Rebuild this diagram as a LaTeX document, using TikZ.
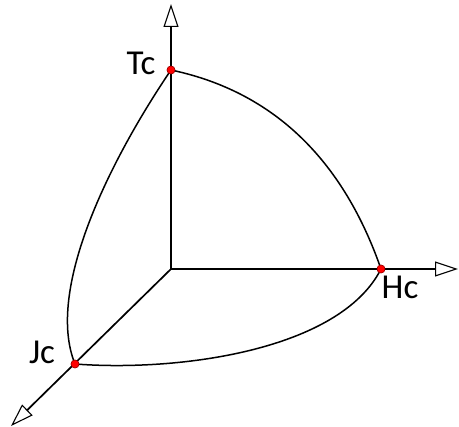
\documentclass[tikz,border=0pt]{standalone}
\usepackage{fontspec}
\setmainfont{Carlito}
\usetikzlibrary{arrows.meta}
\begin{document}
\begin{tikzpicture}[x=1pt,y=-1pt,
  axis/.style={line width=1.7pt,-{Triangle[open,length=23pt,width=15pt,line width=1.1pt]}},
  crv/.style={line width=1.5pt},
  pt/.style={circle,fill=red,draw=red!60!black,line width=0.5pt,inner sep=0pt,minimum size=8pt},
  lbl/.style={font=\fontsize{35}{40}\selectfont,inner sep=0pt}]
\useasboundingbox (0,0) rectangle (459,427);
\coordinate (O) at (171,269);
\coordinate (ztip) at (171,4);
\coordinate (xtip) at (458,269);
\coordinate (ytip) at (11,426);
\node[pt] (T) at (171,70) {};
\node[pt] (H) at (381,269) {};
\node[pt] (J) at (75,364) {};
\draw[axis] (O) -- (ztip);
\draw[axis] (O) -- (xtip);
\draw[axis] (O) -- (ytip);
\draw[crv] (T.center) .. controls (290,95) and (350,180) .. (H.center);
\draw[crv] (T.center) .. controls (110,160) and (45,290) .. (J.center);
\draw[crv] (J.center) .. controls (180,372) and (340,350) .. (H.center);
\node[pt] at (T) {};
\node[pt] at (H) {};
\node[pt] at (J) {};
\node[lbl] (Tl) at (141,63) {Tc};
\node[lbl] (Hl) at (400,287) {Hc};
\node[lbl] (Jl) at (42,352) {Jc};
\end{tikzpicture}
\end{document}
